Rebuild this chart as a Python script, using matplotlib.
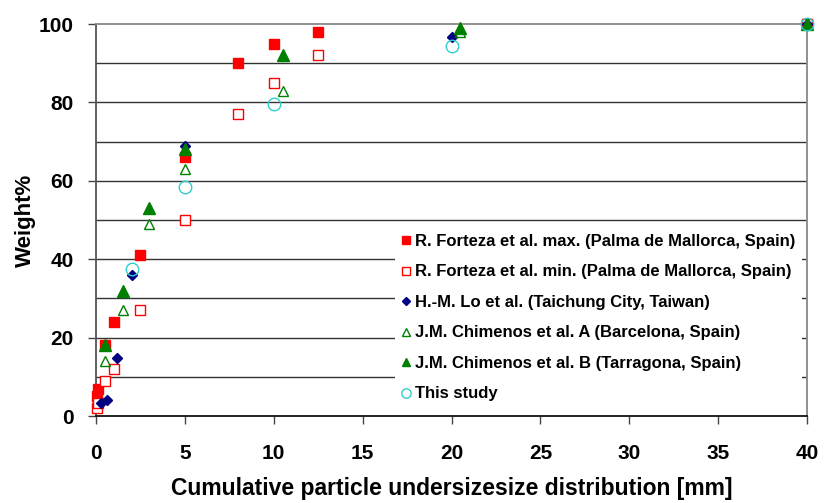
import matplotlib
matplotlib.use("Agg")
import matplotlib.pyplot as plt

plt.rcParams['font.family'] = ['Liberation Sans', 'DejaVu Sans']
plt.rcParams['font.weight'] = 'bold'

# Data
fmax_x = [0.063, 0.125, 0.5, 1, 2.5, 5, 8, 10, 12.5, 40]
fmax_y = [5, 7, 18, 24, 41, 66, 90, 95, 98, 100]
fmin_x = [0.063, 0.125, 0.5, 1, 2.5, 5, 8, 10, 12.5, 40]
fmin_y = [2, 3.2, 9, 12, 27, 50, 77, 85, 92, 100]
lo_x = [0.3, 0.6, 1.2, 2, 5, 20, 40]
lo_y = [3.4, 4.2, 14.8, 36, 69, 96.6, 100]
chA_x = [0.5, 1.5, 3, 5, 10.5, 20.5, 40]
chA_y = [14, 27, 49, 63, 83, 98, 100]
chB_x = [0.5, 1.5, 3, 5, 10.5, 20.5, 40]
chB_y = [18, 32, 53, 68, 92, 99, 100]
st_x = [2, 5, 10, 20, 40]
st_y = [37.4, 58.3, 79.7, 94.4, 100]

labels = ["R. Forteza et al. max. (Palma de Mallorca, Spain)",
          "R. Forteza et al. min. (Palma de Mallorca, Spain)",
          "H.-M. Lo et al. (Taichung City, Taiwan)",
          "J.M. Chimenos et al. A (Barcelona, Spain)",
          "J.M. Chimenos et al. B (Tarragona, Spain)",
          "This study"]
x_ticks = [0, 5, 10, 15, 20, 25, 30, 35, 40]
y_ticks = [0, 20, 40, 60, 80, 100]

fig = plt.figure(figsize=(8.24, 5.03), dpi=100)
ax = fig.add_axes([96/824, 1-416/503, (807-96)/824, (416-24)/503])

ax.plot(fmax_x, fmax_y, ls='none', marker='s', ms=7.5, mfc='#FF0000', mec='#FF0000', label=labels[0], clip_on=False, zorder=3)
ax.plot(fmin_x, fmin_y, ls='none', marker='s', ms=6.8, mfc='white', mec='#FF0000', mew=1.0, label=labels[1], clip_on=False, zorder=3)
ax.plot(lo_x, lo_y, ls='none', marker='D', ms=5.5, mfc='#000080', mec='#000080', label=labels[2], clip_on=False, zorder=3)
ax.plot(chA_x, chA_y, ls='none', marker='^', ms=7.5, mfc='none', mec='#008000', mew=1.0, label=labels[3], clip_on=False, zorder=3)
ax.plot(chB_x, chB_y, ls='none', marker='^', ms=8, mfc='#008000', mec='#008000', label=labels[4], clip_on=False, zorder=3)
ax.plot(st_x, st_y, ls='none', marker='o', ms=9, mfc='none', mec='#33CCCC', mew=1.0, label=labels[5], clip_on=False, zorder=3)

ax.set_xlim(0, 40)
ax.set_ylim(0, 100)
ax.set_xticks(x_ticks)
ax.set_yticks(y_ticks)
ax.tick_params(axis='both', which='major', direction='out', length=6, width=1, colors='#444444', labelcolor='black', labelsize=15)
ax.tick_params(axis='x', pad=14)
ax.tick_params(axis='y', pad=10)
for lab in ax.get_xticklabels() + ax.get_yticklabels():
    lab.set_fontweight('bold')

for yv in range(10, 100, 10):
    ax.axhline(yv, color='#333333', lw=1.0, zorder=1)

for s in ['top', 'right']:
    ax.spines[s].set_color('#888888')
    ax.spines[s].set_linewidth(1.3)
ax.spines['left'].set_color('#555555')
ax.spines['bottom'].set_color('#111111')
ax.spines['left'].set_linewidth(1.3)
ax.spines['bottom'].set_linewidth(1.3)

ax.set_xlabel("Cumulative particle undersizesize distribution [mm]", fontsize=16.5, fontweight='bold', labelpad=10)
ax.set_ylabel("Weight%", fontsize=16, fontweight='bold', labelpad=2)

leg = ax.legend(loc='lower right', bbox_to_anchor=(0.993, 0.02), frameon=True, fancybox=False,
                edgecolor='none', facecolor='white', framealpha=1.0,
                prop={'size': 12, 'weight': 'bold'}, handlelength=0.5, handletextpad=0.3,
                labelspacing=0.93, markerscale=0.75, borderpad=0.4, borderaxespad=0)
leg.set_zorder(5)

fig.savefig("out.png", dpi=100)
